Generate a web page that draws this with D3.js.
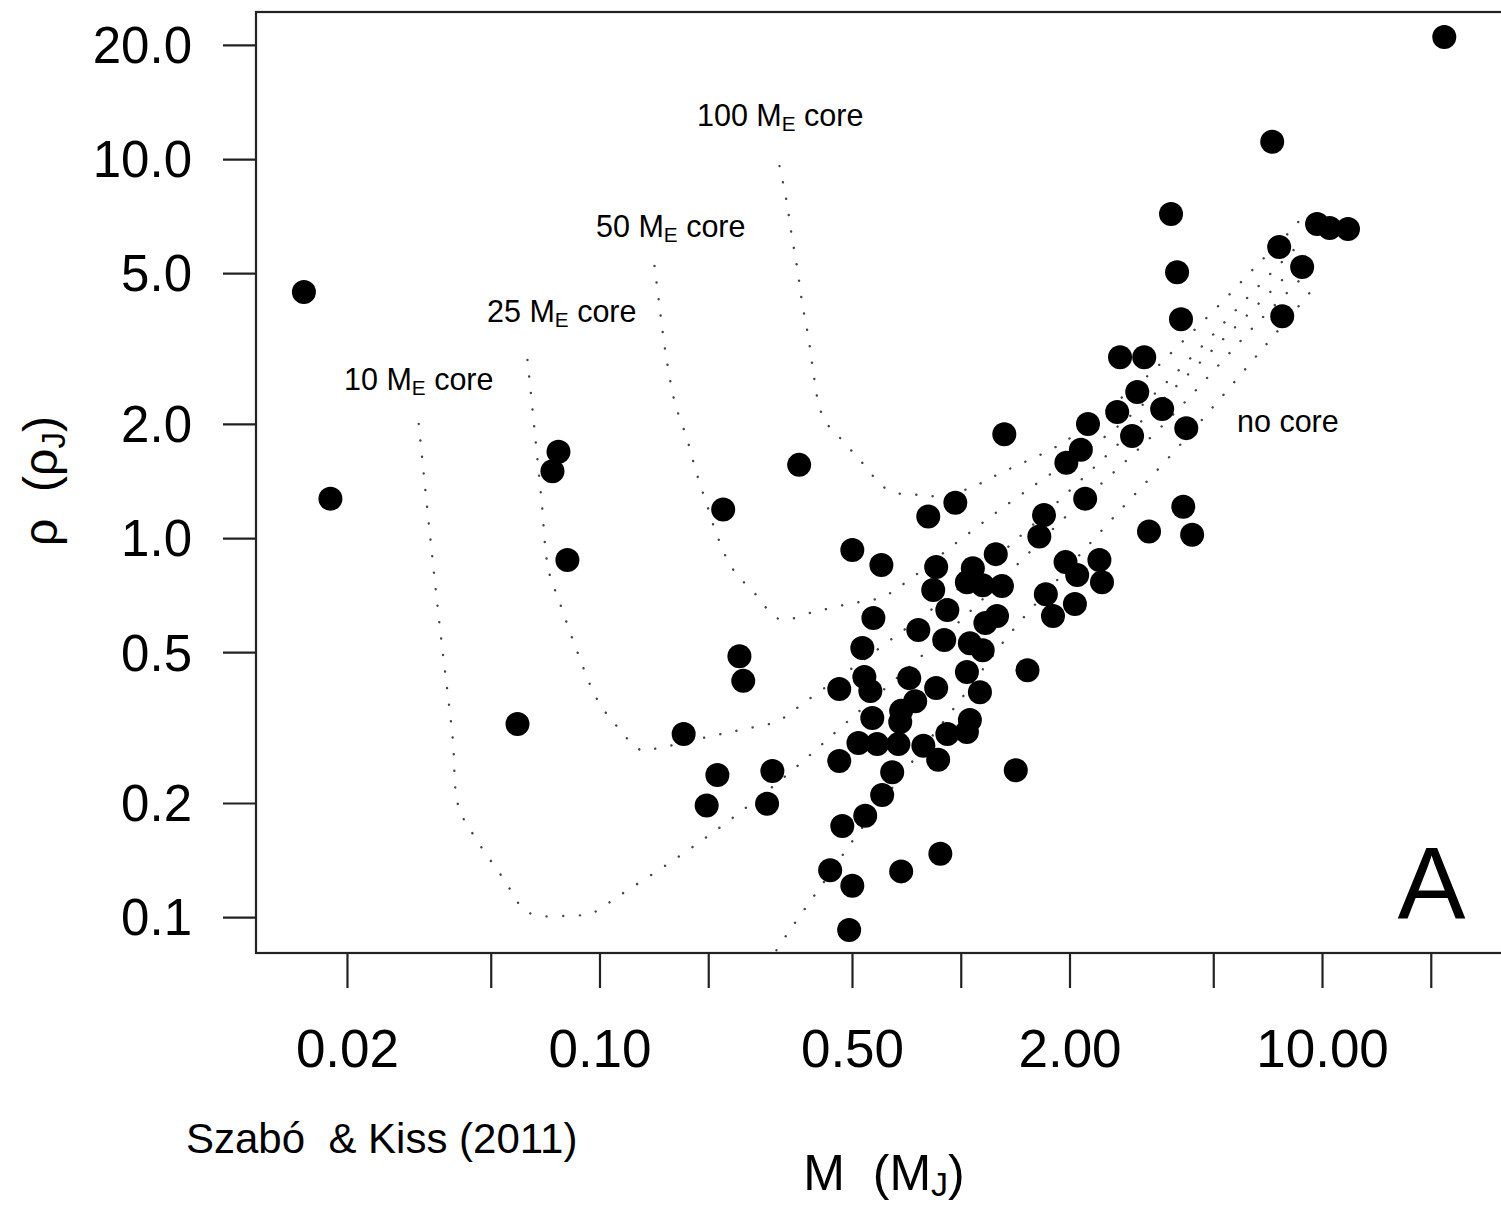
<!DOCTYPE html>
<html><head><meta charset="utf-8">
<script src="https://cdn.jsdelivr.net/npm/d3@7"></script>
<style>
body{margin:0;background:#fff}
text{font-family:"Liberation Sans",Arial,Helvetica,sans-serif;fill:#000}
</style>
</head><body>
<svg id="chart" width="1501" height="1205"></svg>
<script>
// ---- data: planets (mass in M_J, density in rho_J) ----
const planetMass = [21.8, 7.28, 3.82, 9.69, 10.5, 11.8, 7.61, 8.81, 3.97, 4.07,
  7.76, 2.76, 3.22, 3.08, 2.71, 3.61, 2.25, 2.98, 4.21, 2.15,
  1.96, 1.32, 2.21, 4.13, 3.32, 4.37, 1.70, 1.65, 0.966, 0.813,
  0.357, 0.501, 0.603, 0.855, 1.25, 1.08, 0.839, 1.04, 1.15, 1.30,
  0.918, 1.26, 1.17, 1.95, 2.42, 2.10, 2.46, 1.72, 2.07, 1.80,
  0.573, 0.763, 0.900, 1.06, 1.15, 0.534, 1.53, 1.04, 0.461, 0.541,
  0.562, 0.720, 0.855, 1.13, 0.748, 0.684, 0.569, 0.680, 1.06, 0.918,
  1.04, 0.521, 0.587, 0.672, 0.788, 0.461, 0.866, 0.301, 0.646, 1.42,
  0.291, 0.606, 0.544, 0.470, 0.878, 0.435, 0.684, 0.501, 0.491, 0.0152,
  0.0180, 0.0770, 0.0741, 0.0815, 0.0593, 0.220, 0.171, 0.212, 0.198, 0.244, 0.250];
const planetDensity = [21.0, 11.1, 7.16, 6.74, 6.58, 6.54, 5.86, 5.19, 5.03, 3.78,
  3.85, 3.00, 3.00, 2.43, 2.15, 2.19, 2.00, 1.86, 1.95, 1.71,
  1.58, 1.88, 1.27, 1.21, 1.04, 1.02, 1.15, 1.01, 1.24, 1.14,
  1.56, 0.930, 0.849, 0.839, 0.907, 0.833, 0.729, 0.765, 0.751, 0.747,
  0.646, 0.623, 0.597, 0.864, 0.875, 0.799, 0.765, 0.711, 0.670, 0.623,
  0.615, 0.572, 0.538, 0.528, 0.506, 0.513, 0.448, 0.443, 0.400, 0.430,
  0.395, 0.427, 0.402, 0.392, 0.371, 0.350, 0.335, 0.327, 0.331, 0.304,
  0.308, 0.288, 0.286, 0.286, 0.283, 0.258, 0.260, 0.243, 0.241, 0.244,
  0.199, 0.210, 0.185, 0.174, 0.147, 0.133, 0.132, 0.121, 0.0924, 4.46,
  1.27, 1.69, 1.50, 0.875, 0.323, 1.19, 0.304, 0.237, 0.197, 0.488, 0.420];

// ---- model curves ----
const core10Mass = [0.0316, 0.0338, 0.0363, 0.0392, 0.0407, 0.0451, 0.0546, 0.0616, 0.0673, 0.0847, 0.0944, 0.1135, 0.165, 0.236, 0.335, 0.470, 1.00, 1.88, 3.56, 6.74, 9.39];
const core10Density = [2.00, 1.06, 0.562, 0.299, 0.196, 0.163, 0.125, 0.105, 0.101, 0.101, 0.102, 0.114, 0.144, 0.184, 0.240, 0.319, 0.607, 1.10, 1.95, 3.76, 5.16];

const core25Mass = [0.0632, 0.0661, 0.0691, 0.0722, 0.0775, 0.0869, 0.0987, 0.113, 0.130, 0.145, 0.200, 0.250, 0.311, 0.374, 0.488, 0.638, 0.935, 1.37, 2.43, 4.60, 9.15];
const core25Density = [2.95, 1.93, 1.26, 0.828, 0.678, 0.500, 0.374, 0.315, 0.276, 0.279, 0.299, 0.313, 0.329, 0.372, 0.446, 0.538, 0.707, 0.958, 1.59, 2.91, 5.62];

const core50Mass = [0.142, 0.146, 0.150, 0.155, 0.162, 0.174, 0.185, 0.198, 0.212, 0.233, 0.270, 0.315, 0.391, 0.488, 0.607, 0.730, 0.947, 1.35, 1.78, 2.43, 3.34, 4.60, 6.32, 8.87];
const core50Density = [5.22, 4.22, 3.43, 2.79, 2.26, 1.85, 1.50, 1.23, 1.01, 0.833, 0.712, 0.611, 0.638, 0.670, 0.699, 0.784, 0.953, 1.23, 1.48, 1.81, 2.34, 3.17, 4.38, 6.11];

const core100Mass = [0.315, 0.329, 0.340, 0.353, 0.364, 0.379, 0.391, 0.406, 0.425, 0.458, 0.531, 0.614, 0.676, 0.758, 0.845, 1.05, 1.28, 1.91, 2.48, 3.22, 4.10, 5.22, 6.61, 8.32, 8.98];
const core100Density = [9.58, 7.80, 6.34, 5.13, 4.17, 3.37, 2.73, 2.22, 2.01, 1.86, 1.59, 1.36, 1.31, 1.30, 1.29, 1.35, 1.48, 1.78, 2.15, 2.63, 3.29, 4.14, 5.25, 6.58, 7.20];

const noCoreMass = [0.309, 0.338, 0.383, 0.436, 0.495, 0.680, 0.997, 1.35, 1.88, 2.64, 3.85, 5.16, 6.87, 8.54, 9.82];
const noCoreDensity = [0.0818, 0.0930, 0.110, 0.131, 0.156, 0.234, 0.374, 0.551, 0.789, 1.13, 1.67, 2.30, 3.17, 4.05, 4.77];

// ---- ticks ----
const xTickValues = [0.02, 0.05, 0.1, 0.2, 0.5, 1, 2, 5, 10, 20];
const xTickLabels = ["0.02", "", "0.10", "", "0.50", "", "2.00", "", "10.00", ""];
const yTickValues = [0.1, 0.2, 0.5, 1, 2, 5, 10, 20];
const yTickLabels = ["0.1", "0.2", "0.5", "1.0", "2.0", "5.0", "10.0", "20.0"];

// ---- layout ----
const P = {left: 256, top: 12, right: 1505, bottom: 953};
const svg = d3.select("#chart");
const x = d3.scaleLog().domain([0.0112, 32.1]).range([P.left, P.right]);
const y = d3.scaleLog().domain([0.0804, 24.43]).range([P.bottom, P.top]);

svg.append("defs").append("clipPath").attr("id", "clip")
  .append("rect").attr("x", P.left).attr("y", P.top)
  .attr("width", P.right - P.left).attr("height", P.bottom - P.top);

// model curves
const curves = [
  [core10Mass, core10Density],
  [core25Mass, core25Density],
  [core50Mass, core50Density],
  [core100Mass, core100Density],
  [noCoreMass, noCoreDensity]
];
const line = d3.line().x(d => x(d[0])).y(d => y(d[1])).curve(d3.curveCatmullRom.alpha(0.5));
const cg = svg.append("g").attr("clip-path", "url(#clip)");
curves.forEach(([ms, rs]) => {
  cg.append("path")
    .attr("d", line(ms.map((m, i) => [m, rs[i]])))
    .attr("fill", "none")
    .attr("stroke", "#444")
    .attr("stroke-width", 2.4)
    .attr("stroke-linecap", "round")
    .attr("stroke-dasharray", "0.1 16.5");
});

// points
svg.append("g").attr("clip-path", "url(#clip)")
  .selectAll("circle").data(planetMass.map((m, i) => [m, planetDensity[i]]))
  .join("circle")
  .attr("cx", d => x(d[0])).attr("cy", d => y(d[1]))
  .attr("r", 12).attr("fill", "#000");

// frame
svg.append("rect").attr("x", P.left).attr("y", P.top)
  .attr("width", P.right - P.left).attr("height", P.bottom - P.top)
  .attr("fill", "none").attr("stroke", "#222").attr("stroke-width", 2.2);

// y axis
const yAxis = svg.append("g").attr("transform", `translate(${P.left},0)`)
  .call(d3.axisLeft(y).tickValues(yTickValues).tickSize(33).tickPadding(31)
    .tickFormat((d, i) => yTickLabels[i]));
yAxis.select(".domain").remove();
yAxis.selectAll("line").attr("stroke", "#222").attr("stroke-width", 2.2);
yAxis.selectAll("text").attr("font-size", 51).attr("dy", "0.35em")
  .style("font-family", '"Liberation Sans", Arial, sans-serif').attr("fill", "#000");

// x axis
const xAxis = svg.append("g").attr("transform", `translate(0,${P.bottom})`)
  .call(d3.axisBottom(x).tickValues(xTickValues).tickSize(35).tickPadding(41)
    .tickFormat((d, i) => xTickLabels[i]));
xAxis.select(".domain").remove();
xAxis.selectAll("line").attr("stroke", "#222").attr("stroke-width", 2.2);
xAxis.selectAll("text").attr("font-size", 53)
  .style("font-family", '"Liberation Sans", Arial, sans-serif').attr("fill", "#000");

// curve labels
function subLabel(px, py, pre, post, size) {
  const t = svg.append("text").attr("x", px).attr("y", py).attr("font-size", size)
    .style("white-space", "pre");
  t.append("tspan").text(pre);
  t.append("tspan").attr("font-size", size * 0.68).attr("dy", size * 0.16).text("E");
  t.append("tspan").attr("dy", -size * 0.16).text(post);
}
subLabel(697, 126, "100 M", " core", 30.5);
subLabel(596, 237, "50 M", " core", 30.5);
subLabel(487, 322, "25 M", " core", 30.5);
subLabel(344, 390, "10 M", " core", 30.5);
svg.append("text").attr("x", 1237).attr("y", 432).attr("font-size", 30.5).text("no core");

// panel letter
svg.append("text").attr("x", 1431.5).attr("y", 919).attr("text-anchor", "middle")
  .attr("font-size", 102).text("A");

// axis titles
const xt = svg.append("text").attr("x", 884).attr("y", 1190).attr("text-anchor", "middle")
  .attr("font-size", 50).style("white-space", "pre");
xt.append("tspan").text("M  (M");
xt.append("tspan").attr("font-size", 34).attr("dy", 6).text("J");
xt.append("tspan").attr("dy", -6).text(")");

const yt = svg.append("text").attr("transform", "translate(57,481) rotate(-90)")
  .attr("text-anchor", "middle").attr("font-size", 48).style("white-space", "pre");
yt.append("tspan").text("ρ  (ρ");
yt.append("tspan").attr("font-size", 33).attr("dy", 8).text("J");
yt.append("tspan").attr("dy", -8).text(")");

// citation
svg.append("text").attr("x", 186).attr("y", 1153).attr("font-size", 42)
  .style("white-space", "pre").text("Szabó  & Kiss (2011)");
</script>
</body></html>
